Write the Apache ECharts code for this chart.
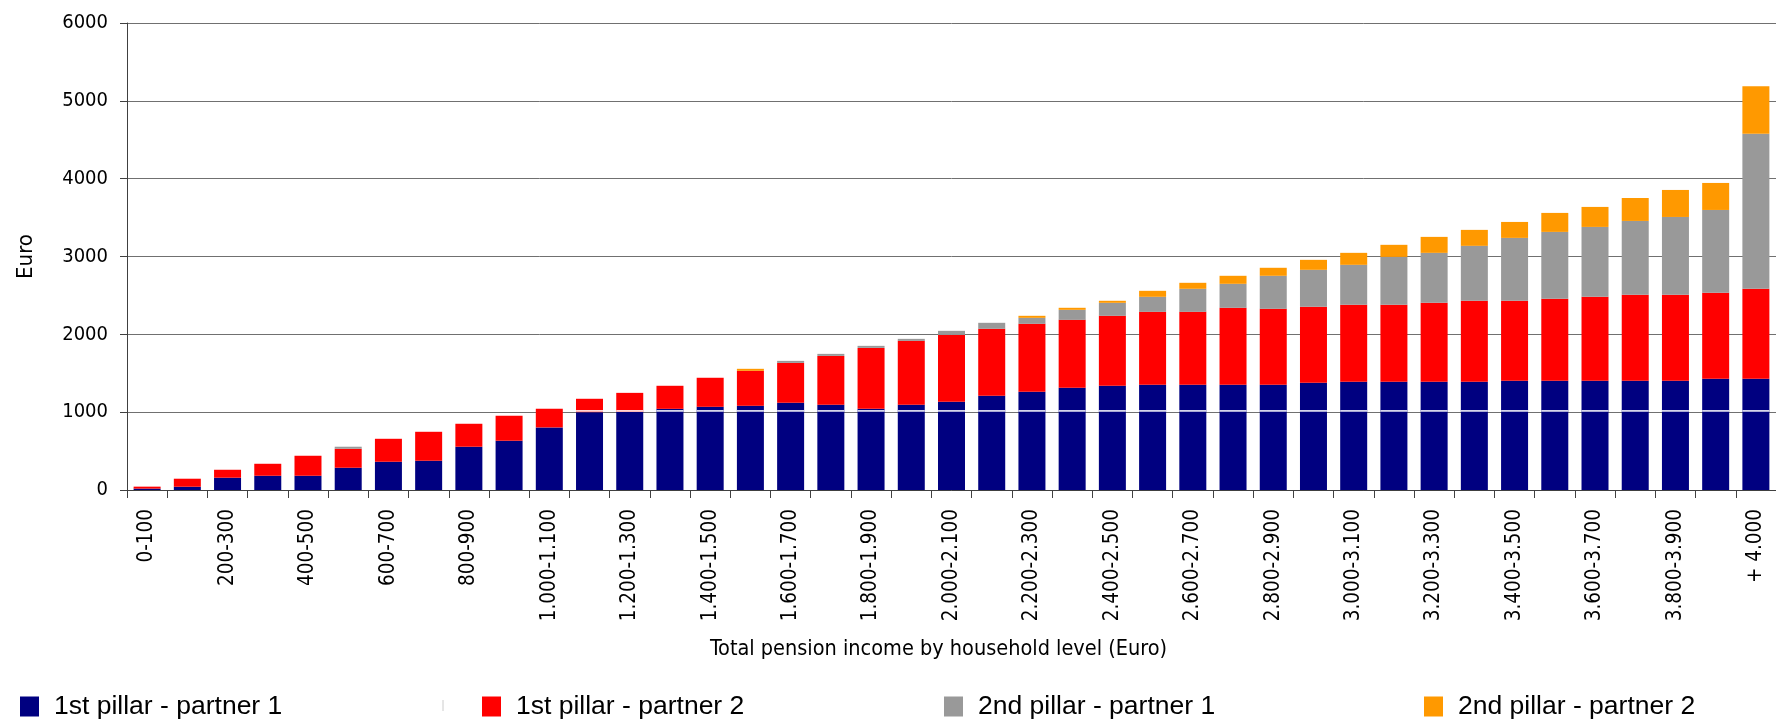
<!DOCTYPE html>
<html>
<head>
<meta charset="utf-8">
<script src="https://cdn.jsdelivr.net/npm/echarts@6/dist/echarts.min.js"></script>
<style>
html,body{margin:0;padding:0;background:#fff;}
#chart{width:1776px;height:722px;}
</style>
</head>
<body>
<div id="chart"></div>
<script>
const categories = ['0-100','100-200','200-300','300-400','400-500','500-600','600-700','700-800','800-900','900-1.000','1.000-1.100','1.100-1.200','1.200-1.300','1.300-1.400','1.400-1.500','1.500-1.600','1.600-1.700','1.700-1.800','1.800-1.900','1.900-2.000','2.000-2.100','2.100-2.200','2.200-2.300','2.300-2.400','2.400-2.500','2.500-2.600','2.600-2.700','2.700-2.800','2.800-2.900','2.900-3.000','3.000-3.100','3.100-3.200','3.200-3.300','3.300-3.400','3.400-3.500','3.500-3.600','3.600-3.700','3.700-3.800','3.800-3.900','3.900-4.000','+ 4.000'];

const pillar1Partner1 = [18,42,158,183,183,286,363,376,556,633,804,1000,1005,1043,1069,1082,1120,1095,1043,1095,1133,1210,1262,1313,1339,1352,1352,1352,1352,1378,1391,1391,1391,1391,1404,1404,1404,1404,1404,1429,1429];
const pillar1Partner2 = [25,103,102,154,257,244,295,372,295,321,240,172,243,296,373,449,513,628,783,821,860,861,873,873,899,937,937,989,976,976,989,989,1014,1040,1027,1053,1078,1104,1104,1105,1156];
const pillar2Partner1 = [0,0,0,0,0,26,0,0,0,0,0,0,0,0,0,0,26,26,26,26,52,77,77,129,167,193,296,308,424,475,513,615,642,706,808,859,898,949,1000,1064,1991];
const pillar2Partner2 = [0,0,0,0,0,0,0,0,0,0,0,0,0,0,0,26,0,0,0,0,0,0,26,26,26,77,77,103,103,128,154,155,205,205,205,244,257,295,347,347,612];

const seriesNames = ['1st pillar - partner 1','1st pillar - partner 2','2nd pillar - partner 1','2nd pillar - partner 2'];
const colors = ['#000080','#ff0000','#999999','#ff9900'];
const yTicks = {min: 0, max: 6000, interval: 1000};

const tickFont = "'DejaVu Sans Condensed', 'DejaVu Sans', sans-serif";

const chart = echarts.init(document.getElementById('chart'), null, {renderer: 'canvas'});

const legendLefts = [15, 477, 939, 1419];
const legends = seriesNames.map((n, i) => ({
  data: [n],
  left: legendLefts[i],
  top: 688,
  orient: 'horizontal',
  icon: 'rect',
  itemWidth: 19,
  itemHeight: 20,
  selectedMode: false,
  textStyle: {fontFamily: 'Liberation Sans, Arial, sans-serif', fontSize: 26.5, color: '#000', padding: [0,0,0,10]}
}));

const barSeries = [pillar1Partner1, pillar1Partner2, pillar2Partner1, pillar2Partner2].map((d, i) => ({
  name: seriesNames[i],
  type: 'bar',
  stack: 'total',
  data: d,
  barWidth: 27,
  itemStyle: {color: colors[i]},
  emphasis: {disabled: true}
}));

barSeries.push({
  type: 'custom',
  name: 'sep',
  data: pillar1Partner1.map((v, i) => [i, v]),
  encode: {x: 0, y: 1},
  z: 5,
  silent: true,
  renderItem: function (params, api) {
    const v = api.value(1);
    if (v < 990) return;
    const pt = api.coord([api.value(0), 1000]);
    const w = api.size([1, 0])[0] * 0.67;
    return {type: 'rect', shape: {x: pt[0] - w / 2, y: pt[1] - 2, width: w, height: 1.5}, style: {fill: '#ffffff'}};
  }
});

chart.setOption({
  animation: false,
  backgroundColor: '#ffffff',
  grid: {left: 127, top: 23, right: -6, bottom: 232, containLabel: false},
  legend: legends,
  graphic: [{type: 'line', shape: {x1: 443, y1: 700, x2: 443, y2: 711}, style: {stroke: '#cccccc', lineWidth: 1}}],
  xAxis: {
    type: 'category',
    data: categories,
    name: 'Total pension income by household level (Euro)',
    nameLocation: 'middle',
    nameGap: 148,
    nameTextStyle: {fontFamily: tickFont, fontSize: 21.5, color: '#000', padding: [0, 26, 0, 0]},
    axisLine: {lineStyle: {color: '#404040', width: 1}},
    axisTick: {show: true, interval: 0, length: 8, lineStyle: {color: '#404040'}},
    axisLabel: {interval: 1, rotate: 90, margin: 19, fontFamily: tickFont, fontSize: 20.5, color: '#000', padding: [0, 0, 8, 0]},
    splitLine: {show: false}
  },
  yAxis: {
    type: 'value',
    min: yTicks.min, max: yTicks.max, interval: yTicks.interval,
    name: 'Euro',
    nameLocation: 'middle',
    nameGap: 90,
    nameRotate: 90,
    nameTextStyle: {fontFamily: tickFont, fontSize: 22, color: '#000'},
    axisLine: {show: true, lineStyle: {color: '#404040', width: 1}},
    axisTick: {show: true, length: 7, lineStyle: {color: '#404040'}},
    axisLabel: {margin: 19, fontFamily: tickFont, fontSize: 20, color: '#000', formatter: function (v) { return String(v); }},
    splitLine: {show: true, lineStyle: {color: '#707070', width: 1}}
  },
  series: barSeries
});
</script>
</body>
</html>
